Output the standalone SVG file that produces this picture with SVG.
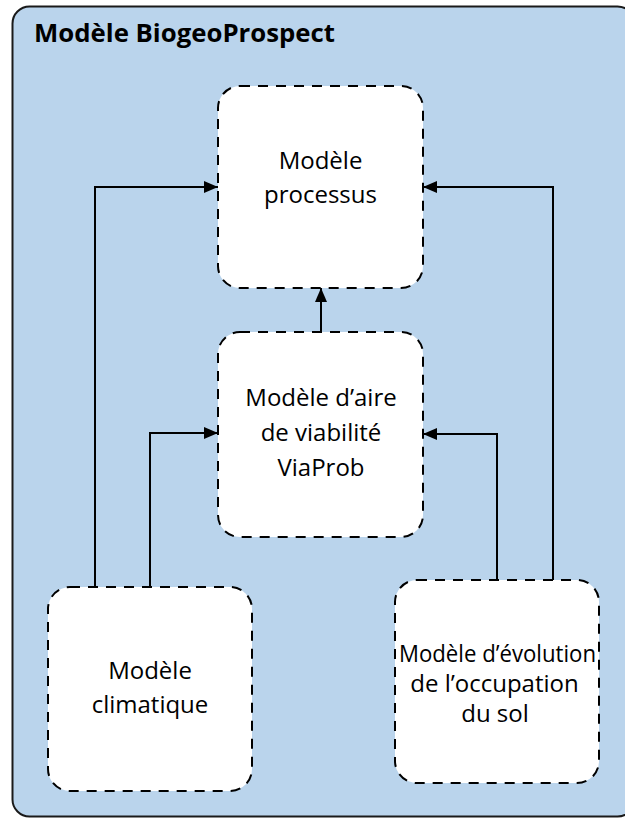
<svg xmlns="http://www.w3.org/2000/svg" width="625" height="819" viewBox="0 0 625 819">
  <defs>
    <marker id="arrow" viewBox="0 0 14 12" refX="14" refY="6" markerWidth="14" markerHeight="12" markerUnits="userSpaceOnUse" orient="auto">
      <path d="M0,0 L14,6 L0,12 Z" fill="#000"/>
    </marker>
    <style>
      .container { fill: #BAD4EC; stroke: #1a1a1a; stroke-width: 2; }
      .node { fill: #ffffff; stroke: #000; stroke-width: 2; stroke-dasharray: 10 8; }
      .label { font-family: "Open Sans", "Liberation Sans", sans-serif; font-size: 24px; fill: #000; text-anchor: middle; }
      .title { font-family: "Open Sans", "Liberation Sans", sans-serif; font-size: 25px; font-weight: bold; fill: #000; }
      .conn { fill: none; stroke: #000; stroke-width: 2; marker-end: url(#arrow); }
    </style>
  </defs>

  <g id="container">
    <rect class="container" x="12.5" y="6.5" width="622" height="810" rx="17" ry="17"/>
    <text class="title" x="34" y="42" textLength="301" lengthAdjust="spacingAndGlyphs">Modèle BiogeoProspect</text>
  </g>

  <g id="connectors">
    <polyline class="conn" points="95,587 95,187 218,187"/>
    <polyline class="conn" points="150,587 150,433 218,433"/>
    <polyline class="conn" points="553,580 553,187 423,187"/>
    <polyline class="conn" points="497,580 497,434 423,434"/>
    <polyline class="conn" points="321,332 321,288"/>
  </g>

  <g id="node-processus">
    <rect class="node" x="218" y="86" width="205" height="202" rx="22" ry="22"/>
    <text class="label" x="320.5" y="169">Modèle</text>
    <text class="label" x="320.5" y="203">processus</text>
  </g>

  <g id="node-viaprob">
    <rect class="node" x="218" y="332" width="205" height="205" rx="22" ry="22"/>
    <text class="label" x="321" y="406">Modèle d’aire</text>
    <text class="label" x="321" y="441">de viabilité</text>
    <text class="label" x="321" y="476">ViaProb</text>
  </g>

  <g id="node-climatique">
    <rect class="node" x="48" y="587" width="204" height="204" rx="22" ry="22"/>
    <text class="label" x="150" y="679">Modèle</text>
    <text class="label" x="150" y="713">climatique</text>
  </g>

  <g id="node-occupation">
    <rect class="node" x="395" y="580" width="204" height="203" rx="22" ry="22"/>
    <text class="label" x="497.5" y="662" textLength="197" lengthAdjust="spacingAndGlyphs">Modèle d’évolution</text>
    <text class="label" x="494.5" y="692">de l’occupation</text>
    <text class="label" x="495" y="722">du sol</text>
  </g>
</svg>
